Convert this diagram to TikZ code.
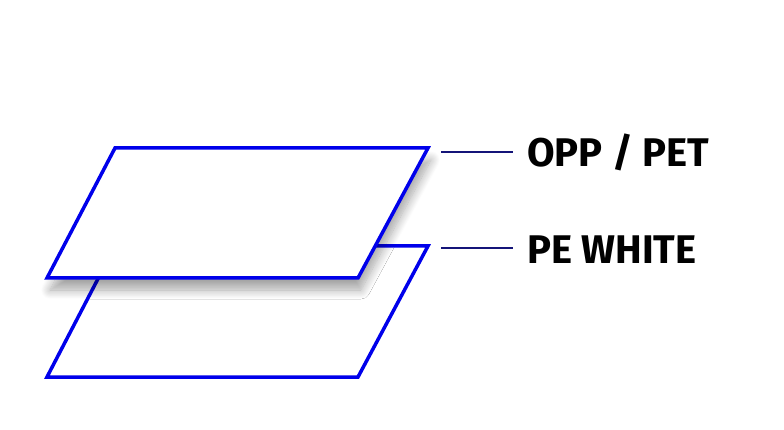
\documentclass[tikz,border=0pt]{standalone}
\usepackage{fontspec}
\setmainfont{Fira Sans}
\usetikzlibrary{shadows.blur}
\definecolor{layerblue}{RGB}{0,0,235}
\definecolor{leadnavy}{RGB}{20,20,120}
\begin{document}
\begin{tikzpicture}[x=1pt,y=-1pt,
  layer/.style={draw=layerblue,line width=3.5pt,fill=white,line join=miter},
  lead/.style={draw=leadnavy,line width=2pt},
  tag/.style={anchor=west,inner sep=0pt,font=\fontsize{40}{40}\selectfont\bfseries}]
  \useasboundingbox (0,0) rectangle (784,430);

  % lower sheet
  \draw[layer] (115,246) -- (428,246) -- (358,377) -- (47,377) -- cycle;
  % upper sheet
  \draw[layer,blur shadow={shadow xshift=3pt,shadow yshift=-12pt,shadow blur radius=9pt,shadow blur steps=12,shadow opacity=35}]
    (115,148) -- (428,148) -- (358,278) -- (47,278) -- cycle;

  \coordinate (top) at (441,152);
  \coordinate (bot) at (441,248);
  \node[tag] (opp) at (527,152) {OPP / PET};
  \node[tag] (pe)  at (527,250) {PE WHITE};
  \draw[lead] (top) -- ([xshift=-14pt]opp.west);
  \draw[lead] (bot) -- ([xshift=-14pt]opp.west |- bot);
\end{tikzpicture}
\end{document}
